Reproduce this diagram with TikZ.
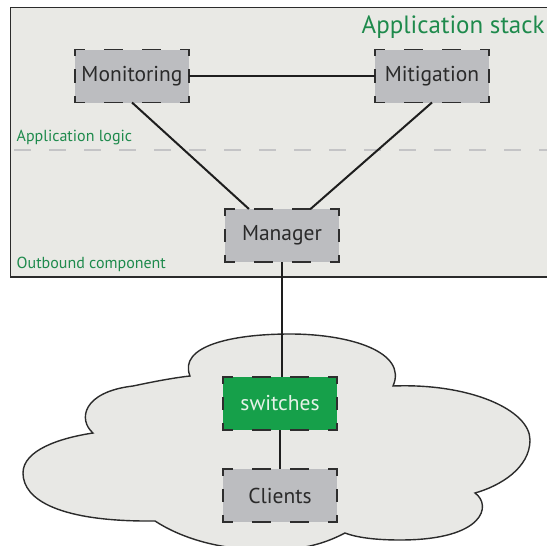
\documentclass[tikz,border=0pt]{standalone}
\usepackage{fontspec}
\setmainfont{PT Sans}
\usetikzlibrary{calc}
\definecolor{panelfill}{HTML}{E9E9E5}
\definecolor{framecol}{HTML}{2B2B2B}
\definecolor{boxgray}{HTML}{BCBDC0}
\definecolor{boxline}{HTML}{2E2E2E}
\definecolor{linkdark}{HTML}{1E1E1E}
\definecolor{sepgray}{HTML}{C4C4C6}
\definecolor{labelgreen}{HTML}{1E8A4C}
\definecolor{switchgreen}{HTML}{16A04A}
\definecolor{switchtext}{HTML}{E6F2E8}
\definecolor{textdark}{HTML}{2A2A2A}
\definecolor{cloudfill}{HTML}{E8E8E5}
% dashed border whose dashes meet at the corners
\newcommand\dashedframe[1]{%
  \draw[edge, hside] (#1.north west) -- (#1.north east);
  \draw[edge, hside] (#1.south west) -- (#1.south east);
  \draw[edge, vside] (#1.north west) -- (#1.south west);
  \draw[edge, vside] (#1.north east) -- (#1.south east);}
\begin{document}
\begin{tikzpicture}[x=1pt,y=-1pt,
  box/.style={draw=none, fill=boxgray,
    minimum width=114pt, minimum height=53pt, inner sep=0pt, outer sep=0pt,
    font=\fontsize{21.5}{25}\selectfont, text=textdark},
  edge/.style={draw=boxline, line width=1.6pt, line cap=rect},
  hside/.style={dash pattern=on 17.4pt off 20.6pt, dash phase=8.7pt},
  vside/.style={dash pattern=on 11.6pt off 14.9pt, dash phase=5.8pt},
  link/.style={draw=linkdark, line width=2pt},
  tag/.style={text=labelgreen, anchor=base west, inner sep=0pt,
    font=\fontsize{16}{19}\selectfont}]
\useasboundingbox (0,0) rectangle (547,546);
\begin{scope}
\clip (0,0) rectangle (547,546);
% application stack panel
\draw[draw=framecol, fill=panelfill, line width=1.5pt] (10.5,7.5) rectangle (580,277);
\draw[sepgray, line width=2.5pt, dash pattern=on 17pt off 18pt] (14,150) -- (547,150);
\node[tag, font=\fontsize{25}{29}\selectfont] (stack) at (361.5,33) {Application stack};
\node[tag] (logic) at (16.5,141.5) {Application logic};
\node[tag] (outb) at (16.5,268) {Outbound component};
% network cloud
\draw[draw=framecol, fill=cloudfill, line width=1.4pt]
  (190,376) .. controls (178,346) and (232,334) .. (290,334)
  .. controls (350,334) and (408,352) .. (393,386)
  .. controls (470,383) and (530,410) .. (530,440)
  .. controls (530,468) and (500,486) .. (475,493)
  .. controls (492,505) and (485,540) .. (400,540)
  .. controls (378,540) and (358,538) .. (345,533)
  .. controls (322,545) and (300,550) .. (268,550)
  .. controls (215,550) and (178,536) .. (155,521)
  .. controls (60,522) and (23,500) .. (23,473)
  .. controls (23,450) and (60,438) .. (93,433)
  .. controls (78,420) and (82,392) .. (133,386)
  .. controls (152,382) and (172,378) .. (190,376) -- cycle;
\end{scope}
% components
\node[box] (mon) at (132,76) {Monitoring};
\node[box] (mit) at (432,76) {Mitigation};
\node[box] (man) at (282,235.5) {Manager};
\node[box, fill=switchgreen, text=switchtext] (sw) at (280,403.5) {switches};
\node[box] (cli) at (280,495.5) {Clients};
\foreach \n in {mon,mit,man,sw,cli} {\dashedframe{\n}}
% connections
\draw[link] (mon.east) -- (mit.west);
\draw[link] (mon.south) -- ($(man.north west)!0.21!(man.north east)$);
\draw[link] (mit.south) -- ($(man.north west)!0.75!(man.north east)$);
\draw[link] (man.south) -- (man.south |- sw.north);
\draw[link] (sw.south) -- (cli.north);
\end{tikzpicture}
\end{document}
